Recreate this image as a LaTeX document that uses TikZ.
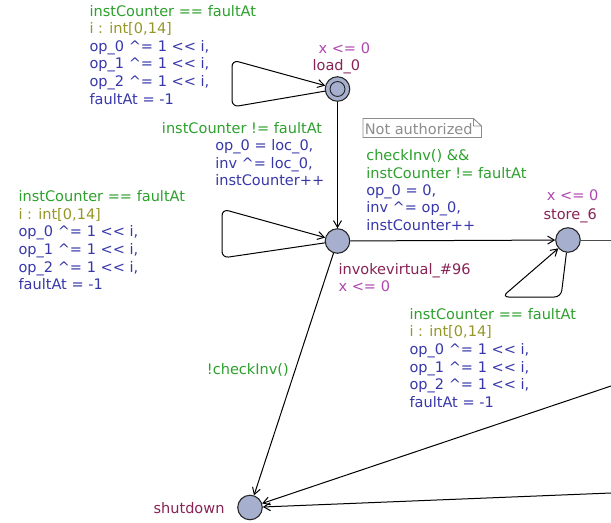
\documentclass[tikz,border=0pt]{standalone}
\usepackage{fontspec}
\setmainfont{DejaVu Sans}
\usetikzlibrary{arrows.meta}
\definecolor{guardc}{RGB}{45,160,45}
\definecolor{selectc}{RGB}{150,150,40}
\definecolor{updatec}{RGB}{55,55,170}
\definecolor{invc}{RGB}{175,70,175}
\definecolor{namec}{RGB}{135,35,85}
\definecolor{locfill}{RGB}{166,175,206}
\definecolor{notec}{RGB}{140,140,140}
\newcommand\shl{<\kern0pt<}
\begin{document}
\begin{tikzpicture}[x=0.75pt,y=-0.75pt,
  loc/.style={circle,draw=black!85,fill=locfill,line width=0.8pt,minimum size=18.4pt,inner sep=0pt},
  edge/.style={draw=black,line width=0.75pt,-{Straight Barb[length=5pt,width=6pt]}},
  lbl/.style={anchor=base west,inner sep=0pt,align=left,font=\fontsize{10.9pt}{13.2pt}\selectfont}]
\useasboundingbox (0,0) rectangle (611,522);
% locations
\node[loc] (load0) at (337.5,89) {};
\draw[black!85,line width=0.7pt] (load0.center) circle (5.6pt);
\node[loc] (inv) at (337.5,241) {};
\node[loc] (store) at (568,240) {};
\node[loc] (shut) at (250,507.5) {};
\coordinate (e1) at (611,240);
\coordinate (e2) at (611,386);
\coordinate (e3) at (611,493);
% edges
\draw[edge,rounded corners=5pt] (load0) -- (232,107) -- (232,60) -- (load0);
\draw[edge] (load0) -- (inv);
\draw[edge,rounded corners=5pt] (inv) -- (222,258) -- (222,209) -- (inv);
\draw[edge] (inv) -- (store);
\draw[edge,rounded corners=5pt] (store) -- (561,297) -- (502,297) -- (store);
\draw[edge] (inv) -- (shut);
\draw[edge] (e2) -- (shut);
\draw[edge] (e3) -- (shut);
\draw[line width=0.75pt,black!70] (store) -- (e1);
% note
\node[lbl,text=notec] (note) at (364.5,134) {Not authorized};
\draw[notec,line width=0.7pt] (363,118.5) -- (473.5,118.5) -- (481.5,126) -- (481.5,137.5) -- (363,137.5) -- cycle
  (473.5,118.5) -- (473.5,126) -- (481.5,126);
% labels (base anchor = baseline of last line)
\node[lbl] (ga) at (89.3,104) {\color{guardc}instCounter == faultAt\\ \color{selectc}i : int[0,14]\\ \color{updatec}op\_0 \textasciicircum= 1 \shl{} i,\\ \color{updatec}op\_1 \textasciicircum= 1 \shl{} i,\\ \color{updatec}op\_2 \textasciicircum= 1 \shl{} i,\\ \color{updatec}faultAt = -1};
\node[lbl] (gb) at (18.3,289.7) {\color{guardc}instCounter == faultAt\\ \color{selectc}i : int[0,14]\\ \color{updatec}op\_0 \textasciicircum= 1 \shl{} i,\\ \color{updatec}op\_1 \textasciicircum= 1 \shl{} i,\\ \color{updatec}op\_2 \textasciicircum= 1 \shl{} i,\\ \color{updatec}faultAt = -1};
\node[lbl] (gc) at (409.3,407.3) {\color{guardc}instCounter == faultAt\\ \color{selectc}i : int[0,14]\\ \color{updatec}op\_0 \textasciicircum= 1 \shl{} i,\\ \color{updatec}op\_1 \textasciicircum= 1 \shl{} i,\\ \color{updatec}op\_2 \textasciicircum= 1 \shl{} i,\\ \color{updatec}faultAt = -1};
\node[lbl,text=invc] (linv0) at (318.3,53.3) {x <= 0};
\node[lbl,text=namec] (lname0) at (312.3,70.5) {load\_0};
\node[lbl,text=guardc] (gd) at (161.7,133.3) {instCounter != faultAt};
\node[lbl,text=updatec] (ud) at (215,185.9) {op\_0 = loc\_0,\\ inv \textasciicircum= loc\_0,\\ instCounter++};
\node[lbl,text=guardc] (ge) at (366,178.3) {checkInv() \&\&\\ instCounter != faultAt};
\node[lbl,text=updatec] (ue) at (366,230.2) {op\_0 = 0,\\ inv \textasciicircum= op\_0,\\ instCounter++};
\node[lbl,text=invc] (linvs) at (546.7,200) {x <= 0};
\node[lbl,text=namec] (lnames) at (543.3,219.3) {store\_6};
\node[lbl,text=namec] (lnamei) at (338.3,274) {invokevirtual\_\#96};
\node[lbl,text=invc] (linvi) at (338.3,291.5) {x <= 0};
\node[lbl,text=guardc] (gf) at (206.7,374) {!checkInv()};
\node[lbl,text=namec] (lnamesh) at (153.3,513.3) {shutdown};
\end{tikzpicture}
\end{document}
